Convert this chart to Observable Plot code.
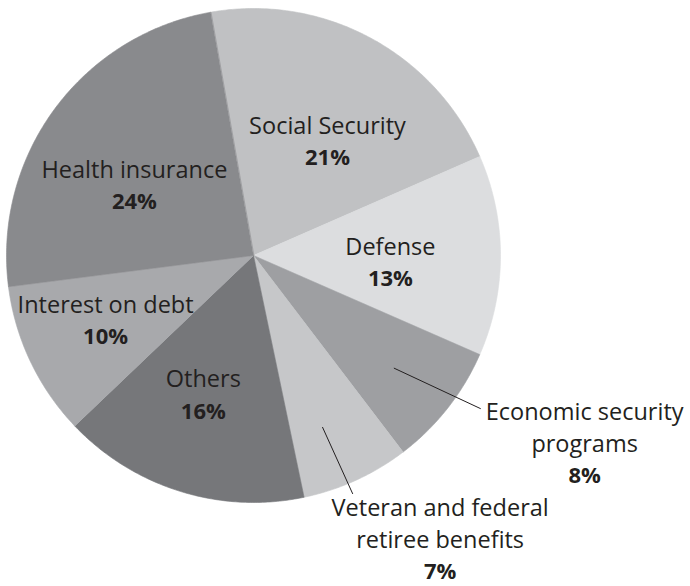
<!DOCTYPE html>
<html>
<head>
<meta charset="utf-8">
<script src="https://cdn.jsdelivr.net/npm/d3@7"></script>
<script src="https://cdn.jsdelivr.net/npm/@observablehq/plot@0.6"></script>
<style>
  html, body { margin: 0; padding: 0; background: #fff; }
</style>
</head>
<body>
<div id="chart"></div>
<script>
// ---- data ----
const categories = ["Social Security", "Defense", "Economic security programs", "Veteran and federal retiree benefits", "Others", "Interest on debt", "Health insurance"];
const nameLines = [["Social Security"], ["Defense"], ["Economic security", "programs"], ["Veteran and federal", "retiree benefits"], ["Others"], ["Interest on debt"], ["Health insurance"]];
const values = [21, 13, 8, 7, 16, 10, 24];
const colors = ["#c0c1c3", "#dcdddf", "#9e9fa2", "#c6c7c9", "#76777a", "#a8a9ac", "#898a8d"];

// ---- layout (polar: degrees clockwise from top, radius in pie units) ----
const startDeg = -10;
const labelPolar = [[33, 0.55], [92.9, 0.555], [121.6, 1.574], [148.1, 1.43], [199.8, 0.6], [246.3, 0.654], [300.6, 0.56]];
const leaders = {2: [[128.7, 0.73], [124, 1.108]], 3: [[158.1, 0.75], [157.4, 1.044]]};

const rad = d => d * Math.PI / 180;
const polar = (deg, r) => ({x: r * Math.sin(rad(deg)), y: r * Math.cos(rad(deg))});

const arcs = d3.pie().sort(null).startAngle(rad(startDeg)).endAngle(rad(startDeg + 360))(values);

const polys = [];
arcs.forEach((a, i) => {
  const n = Math.max(2, Math.ceil((a.endAngle - a.startAngle) / 0.01));
  polys.push({name: categories[i], x: 0, y: 0});
  for (let k = 0; k <= n; k++) {
    const t = a.startAngle + (a.endAngle - a.startAngle) * k / n;
    polys.push({name: categories[i], x: Math.sin(t), y: Math.cos(t)});
  }
});

const labels = categories.map((c, i) => {
  const p = polar(labelPolar[i][0], labelPolar[i][1]);
  return {name: c, text: nameLines[i].join("\n"), pct: values[i] + "%", x: p.x, y: p.y};
});

const leaderPts = [];
Object.entries(leaders).forEach(([i, pts]) => {
  pts.forEach(([deg, r]) => { const p = polar(deg, r); leaderPts.push({id: i, x: p.x, y: p.y}); });
});

const R = 247, cx = 253, cy = 255, W = 690, H = 586;

const chart = Plot.plot({
  width: W, height: H, margin: 0,
  style: {fontFamily: "'Open Sans', sans-serif", background: "#fff"},
  x: {domain: [-cx / R, (W - cx) / R], axis: null},
  y: {domain: [-(H - cy) / R, cy / R], axis: null},
  color: {domain: categories, range: colors},
  marks: [
    Plot.line(polys, {x: "x", y: "y", z: "name", fill: "name", stroke: "name", strokeWidth: 0.6, curve: "linear-closed"}),
    Plot.line(leaderPts, {x: "x", y: "y", z: "id", stroke: "#231f20", strokeWidth: 1}),
    Plot.text(labels, {x: "x", y: "y", text: "text", lineAnchor: "bottom", dy: -7.5, fontSize: 23.5, lineHeight: 1.34, fill: "#231f20"}),
    Plot.text(labels, {x: "x", y: "y", text: "pct", lineAnchor: "top", dy: 8, fontSize: 22, fontWeight: "bold", fill: "#231f20"})
  ]
});
document.getElementById("chart").appendChild(chart);
</script>
</body>
</html>
